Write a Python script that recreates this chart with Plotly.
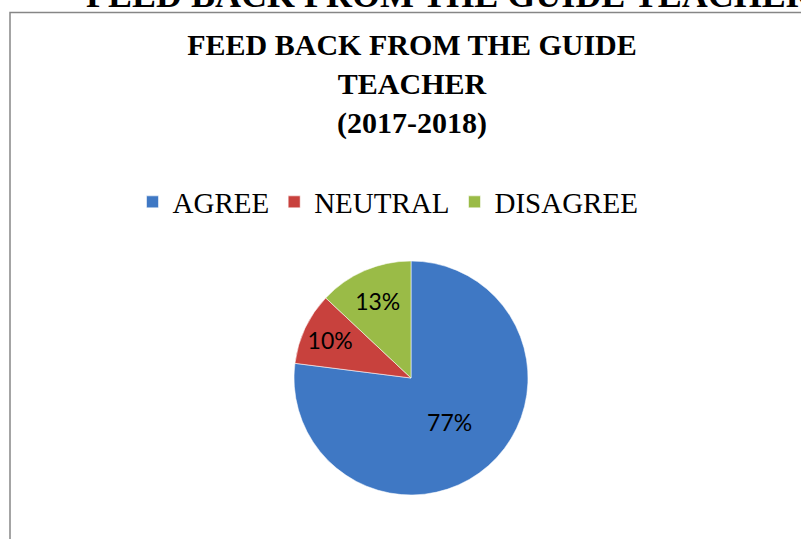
import plotly.graph_objects as go

# ---- data ----
categories = ["AGREE", "NEUTRAL", "DISAGREE"]
values = [77, 10, 13]
colors = ["#3F78C4", "#C8413D", "#9ABB47"]
chart_title = "FEED BACK FROM THE GUIDE<br>TEACHER<br>(2017-2018)"
page_heading = "FEED BACK FROM THE GUIDE TEACHER"

W, H = 801, 539

fig = go.Figure()
fig.add_trace(go.Pie(
    labels=categories,
    values=values,
    sort=False,
    direction="clockwise",
    rotation=0,
    marker=dict(colors=colors, line=dict(color="rgba(255,255,255,0.55)", width=1)),
    texttemplate="%{percent:.0%}",
    textposition="inside",
    insidetextorientation="horizontal",
    textfont=dict(family="Lato, Open Sans, sans-serif", size=23, color="#000000"),
    domain=dict(x=[294 / W, 528 / W], y=[(H - 495) / H, (H - 261) / H]),
    hoverinfo="label+percent",
))

fig.update_layout(
    width=W, height=H,
    margin=dict(l=0, r=0, t=0, b=0),
    paper_bgcolor="#FFFFFF",
    plot_bgcolor="#FFFFFF",
    title=dict(
        text=chart_title,
        x=412 / W, xanchor="center",
        xref="paper", yref="container",
        y=1 - 55 / H, yanchor="top",
        font=dict(family="Liberation Serif, Times New Roman, serif", size=30, color="#000000", weight="bold"),
    ),
    showlegend=True,
    legend=dict(
        orientation="h",
        x=388 / W, xanchor="center",
        y=1 - 202 / H, yanchor="middle",
        font=dict(family="Liberation Serif, Times New Roman, serif", size=29, color="#000000"),
        bgcolor="rgba(0,0,0,0)",
        traceorder="normal",
    ),
    shapes=[dict(
        type="rect", xref="paper", yref="paper",
        x0=10 / W, x1=1.02, y0=-0.02, y1=1 - 12.5 / H,
        line=dict(color="#868686", width=1.5),
        fillcolor="rgba(0,0,0,0)", layer="below",
    )],
    annotations=[dict(
        text="<b>" + page_heading + "</b>",
        xref="paper", yref="paper",
        x=84 / W, xanchor="left",
        y=1 - 17 / H, yanchor="bottom",
        showarrow=False,
        font=dict(family="Liberation Serif, Times New Roman, serif", size=36, color="#000000"),
    )],
)

fig.write_html(
    "out.html",
    config={"displayModeBar": False},
    post_script="document.body.style.margin='0';document.body.style.overflow='hidden';",
)
